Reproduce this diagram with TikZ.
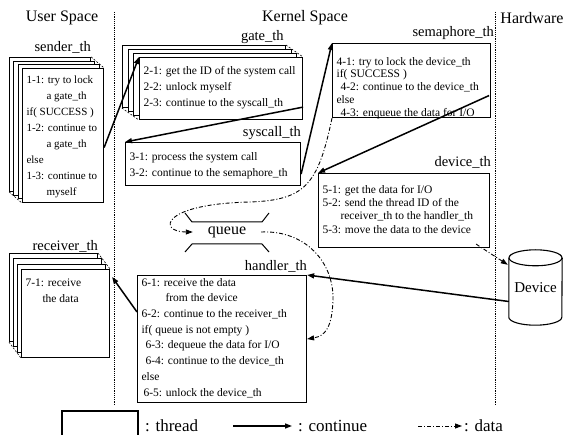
\documentclass[tikz,border=0pt]{standalone}
\usepackage{fontspec}
\setmainfont{Liberation Serif}
\usetikzlibrary{calc}
\usetikzlibrary{positioning}
\usetikzlibrary{arrows.meta}
\usetikzlibrary{backgrounds}

% text block of a thread box: width, height, first baseline, lines
\newcommand{\thtext}[4]{\parbox[c][#2][t]{#1}{\raggedright\rule{0pt}{#3}#4}}

\begin{document}
\begin{tikzpicture}[x=1pt, y=-1pt, >={Triangle[length=7pt,width=5pt]}]
    \tikzstyle{thread}=[draw=black, line width=1.1pt, fill=white, inner xsep=4pt, inner ysep=0pt, anchor=north west, font=\fontsize{11.5}{16}\selectfont]
    \tikzstyle{backpage}=[draw=black, line width=1pt, fill=white, inner sep=0pt, anchor=north west]
    \tikzstyle{pagecorner}=[line width=0.6pt, dash pattern=on 2pt off 1.5pt]
    \tikzstyle{thlabel}=[inner sep=0pt, anchor=south east, font=\fontsize{14.5}{16}\selectfont]
    \tikzstyle{spacetitle}=[inner sep=0pt, font=\fontsize{16}{18}\selectfont]
    \tikzstyle{flow}=[->, line width=1.5pt]
    \tikzstyle{dataflow}=[->, line width=0.9pt, dash pattern=on 4pt off 2pt on 1pt off 2pt]
    \tikzstyle{spaceline}=[line width=0.8pt, dash pattern=on 1.2pt off 1pt]
    \tikzstyle{legtext}=[inner sep=0pt, anchor=west, font=\fontsize{17}{19}\selectfont]

    \useasboundingbox (0,0) rectangle (573,435);

    % spaces
    \node[spacetitle] (usertitle) at (62,18) {User Space};
    \node[spacetitle] (kerneltitle) at (305,18) {Kernel Space};
    \node[spacetitle] (hwtitle) at (532,18) {Hardware};
    \draw[spaceline] (114,12) -- (114,404);
    \draw[spaceline] (495,12) -- (495,404);

    % threads
    \node[thread, font=\fontsize{11}{16}\selectfont] (sender) at (22,68) {\thtext{73pt}{134pt}{14.6pt}{1-1: try to lock\\ \hspace*{20pt}a gate\_th\\ if( SUCCESS )\\ 1-2: continue to\\ \hspace*{20pt}a gate\_th\\ else\\ 1-3: continue to\\ \hspace*{20pt}myself}};
    \node[thread] (gate) at (139,57) {\thtext{155pt}{62pt}{16.6pt}{2-1: get the ID of the system call\\ 2-2: unlock myself\\ 2-3: continue to the syscall\_th}};
    \node[thread] (syscall) at (125,142) {\thtext{167pt}{43pt}{17.6pt}{3-1: process the system call\\ 3-2: continue to the semaphore\_th}};
    \node[thread, font=\fontsize{11.5}{12.8}\selectfont] (sem) at (332,43) {\thtext{150pt}{74pt}{21.6pt}{4-1: try to lock the device\_th\\ if( SUCCESS )\\ \hspace*{4pt}4-2: continue to the device\_th\\ else\\ \hspace*{4pt}4-3: enqueue the data for I/O}};
    \node[thread, font=\fontsize{11.5}{13.3}\selectfont] (device) at (318,173) {\thtext{163pt}{74pt}{19.6pt}{5-1: get the data for I/O\\ 5-2: send the thread ID of the\\ \hspace*{18pt}receiver\_th to the handler\_th\\ 5-3: move the data to the device}};
    \node[thread, font=\fontsize{11.5}{15.7}\selectfont] (handler) at (137,275) {\thtext{161pt}{127pt}{10.6pt}{6-1: receive the data\\ \hspace*{24pt}from the device\\ 6-2: continue to the receiver\_th\\ if( queue is not empty )\\ \hspace*{4pt}6-3: dequeue the data for I/O\\ \hspace*{4pt}6-4: continue to the device\_th\\ else\\ \hspace*{2pt}6-5: unlock the device\_th}};
    \node[thread] (receiver) at (21,269) {\thtext{80pt}{88pt}{16.6pt}{7-1: receive\\ \hspace*{17pt}the data}};

    % stacked pages behind the multi threads
    \begin{scope}[on background layer]
        \foreach \k in {3,2,1}
            \node[backpage, minimum width=81pt, minimum height=134pt] (sender\k) at ($(sender.north west)+(-4.3*\k,-3.7*\k)$) {};
        \foreach \k in {3,2,1}
            \node[backpage, minimum width=163pt, minimum height=62pt] (gate\k) at ($(gate.north west)+(-5.7*\k,-4*\k)$) {};
        \foreach \k in {3,2,1}
            \node[backpage, minimum width=88pt, minimum height=88pt] (receiver\k) at ($(receiver.north west)+(-4*\k,-5.3*\k)$) {};
    \end{scope}
    \draw[pagecorner] (sender3.north east) -- (sender.north east);
    \draw[pagecorner] (sender3.south west) -- (sender.south west);
    \draw[pagecorner] (gate3.north east) -- (gate.north east);
    \draw[pagecorner] (gate3.south west) -- (gate.south west);
    \draw[pagecorner] (receiver3.north east) -- (receiver.north east);
    \draw[pagecorner] (receiver3.south west) -- (receiver.south west);

    % thread names
    \node[thlabel] (senderlbl) at ($(sender3.north east)+(0,-3)$) {sender\_th};
    \node[thlabel] (gatelbl) at ($(gate3.north east)+(-2,-1)$) {gate\_th};
    \node[thlabel] (syscalllbl) at ($(syscall.north east)+(0,-2)$) {syscall\_th};
    \node[thlabel] (semlbl) at ($(sem.north east)+(3,-3)$) {semaphore\_th};
    \node[thlabel] (devicelbl) at ($(device.north east)+(1,-4)$) {device\_th};
    \node[thlabel] (handlerlbl) at ($(handler.north east)+(0,-2)$) {handler\_th};
    \node[thlabel] (receiverlbl) at ($(receiver3.north east)+(0,-1)$) {receiver\_th};

    % queue
    \node[font=\fontsize{16}{18}\selectfont, minimum width=68pt, inner sep=0pt] (queue) at (227,232) {queue};
    \draw[line width=1pt] ($(queue.center)+(-42,-19)$) -- ++(7,9) -- ($(queue.center)+(35,-10)$) -- ++(7,-9);
    \draw[line width=1pt] ($(queue.center)+(-42,20)$) -- ++(7,-8) -- ($(queue.center)+(35,12)$) -- ++(7,8);

    % device
    \node[font=\fontsize{15}{17}\selectfont, minimum width=53pt, minimum height=59pt, inner sep=0pt] (dev) at (535.5,287.5) {Device};
    \draw[line width=1.1pt] (dev.north west) -- (dev.south west) arc[start angle=180, end angle=360, x radius=26.5pt, y radius=8pt] -- (dev.north east);
    \draw[line width=1.1pt] (dev.north) ellipse[x radius=26.5pt, y radius=8pt];

    % continue
    \draw[flow] ($(sender.east)+(0,12)$) -- (gate.north west);
    \draw[flow] ($(gate.south east)+(0,-13)$) -- (syscall.north west);
    \draw[flow] ($(syscall.south east)+(0,-12)$) -- (sem.north west);
    \draw[flow] ($(sem.east)+(-2,15)$) -- (device.north west);
    \draw[flow] ($(dev.west)+(0,14)$) -- (handler.north east);
    \draw[flow] ($(handler.north west)+(0,37)$) -- ($(receiver.north east)+(2,8)$);

    % data
    \draw[dataflow] (sem.south west) .. controls (318,185) and (305,200) .. (250,202) .. controls (160,204) and (158,232) .. (queue.west);
    \draw[dataflow] (queue.east) .. controls (305,230) and (334,262) .. (333,300) .. controls (332,328) and (325,336) .. (handler.east);
    \draw[dataflow] ($(device.south east)+(-14,-4)$) -- ($(dev.north west)+(-1,7)$);

    % legend
    \draw[line width=1.1pt] (62,435) |- (138,411) -- (138,435);
    \node[legtext] (legthread) at (145,426) {: thread};
    \coordinate (legc1) at (233,426);
    \coordinate (legc2) at (292,426);
    \draw[flow] (legc1) -- (legc2);
    \node[legtext] (legcont) at (298,426) {: continue};
    \coordinate (legd1) at (418,426);
    \coordinate (legd2) at (462,426);
    \draw[dataflow] (legd1) -- (legd2);
    \node[legtext] (legdata) at (464,426) {: data};
\end{tikzpicture}
\end{document}
